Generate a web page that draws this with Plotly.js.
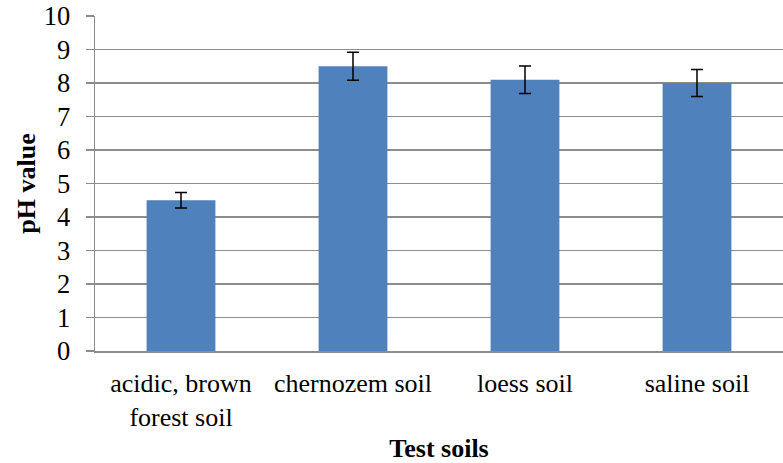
<!DOCTYPE html>
<html>
<head>
<meta charset="utf-8">
<script src="https://cdn.plot.ly/plotly-3.0.1.min.js"></script>
<style>html,body{margin:0;padding:0;background:#fff;}#chart{width:783px;height:463px;}</style>
</head>
<body>
<div id="chart"></div>
<script>
const categories = ["acidic, brown<br>forest soil", "chernozem soil", "loess soil", "saline soil"];
const phValues = [4.5, 8.5, 8.1, 8.0];
const phErrors = [0.23, 0.42, 0.41, 0.40];
const yTicks = [0, 1, 2, 3, 4, 5, 6, 7, 8, 9, 10];

const font = "Liberation Serif";
const gridColor = "#8c8c8c";

const trace = {
  type: "bar",
  x: categories,
  y: phValues,
  marker: {color: "#4F81BD", line: {width: 0}},
  error_y: {type: "data", array: phErrors, visible: true, color: "#000000", thickness: 1.5, width: 6}
};

const layout = {
  width: 783,
  height: 463,
  margin: {l: 95, r: 0, t: 16, b: 112},
  paper_bgcolor: "#ffffff",
  plot_bgcolor: "#ffffff",
  bargap: 0.6,
  showlegend: false,
  font: {family: font, size: 26, color: "#000000"},
  xaxis: {
    type: "category",
    showgrid: false,
    showline: true,
    linecolor: gridColor,
    linewidth: 1.5,
    ticks: "",
    tickfont: {family: font, size: 26, color: "#000000"},
    ticklabelstandoff: 8,
    title: {text: "<b>Test soils</b>", font: {family: font, size: 26, color: "#000000"}, standoff: 24}
  },
  yaxis: {
    range: [0, 10],
    automargin: true,
    tickvals: yTicks,
    ticktext: yTicks.map(String),
    showgrid: true,
    gridcolor: gridColor,
    gridwidth: 1.5,
    zeroline: false,
    showline: true,
    linecolor: gridColor,
    linewidth: 1.5,
    ticks: "outside",
    ticklen: 8,
    tickwidth: 1.5,
    tickcolor: gridColor,
    ticklabelstandoff: 10,
    tickfont: {family: font, size: 26.5, color: "#000000"},
    title: {text: "<b>pH value</b>", font: {family: font, size: 26, color: "#000000"}, standoff: 0}
  }
};

Plotly.newPlot("chart", [trace], layout, {displayModeBar: false, staticPlot: true});
</script>
</body>
</html>
